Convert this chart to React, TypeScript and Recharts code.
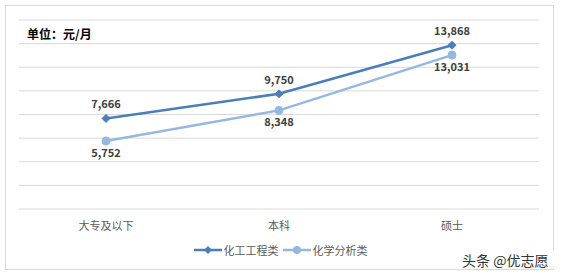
import React from 'react';
import { LineChart, Line, XAxis, YAxis, CartesianGrid, Legend, LabelList } from 'recharts';

const categories = ['大专及以下', '本科', '硕士'];
const chemEngineering = [7666, 9750, 13868];
const chemAnalysis = [5752, 8348, 13031];
const yTicks = [0, 2000, 4000, 6000, 8000, 10000, 12000, 14000, 16000];

const data = categories.map((name, i) => ({
  name,
  a: chemEngineering[i],
  b: chemAnalysis[i],
}));

const FONT = '"Noto Sans CJK SC", "Microsoft YaHei", sans-serif';
const C1 = '#4A7EBB';
const C2 = '#95B8E0';

const Diamond = (props: any) => {
  const { cx, cy } = props;
  if (cx == null || cy == null) return null;
  const r = 4;
  return <path d={`M${cx},${cy - r}L${cx + r},${cy}L${cx},${cy + r}L${cx - r},${cy}Z`} fill={C1} stroke={C1} />;
};

const Dot = (props: any) => {
  const { cx, cy } = props;
  if (cx == null || cy == null) return null;
  return <circle cx={cx} cy={cy} r={4} fill={C2} stroke={C2} />;
};

const EmptyTick = () => <g />;

const fmt = (v: any) => Number(v).toLocaleString('en-US');

const LegendContent = () => (
  <div style={{ display: 'flex', justifyContent: 'center', alignItems: 'center', fontFamily: FONT, fontSize: 11, color: '#595959', height: 14 }}>
    <svg width={28} height={10}>
      <line x1={0} y1={5} x2={28} y2={5} stroke={C1} strokeWidth={2.5} />
      <path d="M14,1L18,5L14,9L10,5Z" fill={C1} />
    </svg>
    <span style={{ marginLeft: 2, marginRight: 4 }}>化工工程类</span>
    <svg width={28} height={10}>
      <line x1={0} y1={5} x2={28} y2={5} stroke={C2} strokeWidth={2.5} />
      <circle cx={14} cy={5} r={4} fill={C2} />
    </svg>
    <span style={{ marginLeft: 2 }}>化学分析类</span>
  </div>
);

export default function App() {
  return (
    <div style={{ position: 'absolute', left: 0, top: 0, width: 561, height: 277, background: '#fff' }}>
      <div style={{ position: 'absolute', left: 5, top: 5, width: 547, height: 263, border: '1px solid #D9D9D9' }} />
      <div style={{ position: 'absolute', left: 27, top: 25, fontFamily: FONT, fontSize: 12, fontWeight: 'bold', color: '#000' }}>单位：元/月</div>
      <LineChart width={561} height={277} data={data} margin={{ top: 20, right: 22, left: 19, bottom: 24 }}>
        <CartesianGrid horizontal vertical={false} stroke="#D9D9D9" />
        <YAxis width={0} domain={[0, 16000]} ticks={yTicks} interval={0} tick={<EmptyTick />} axisLine={false} tickLine={false} />
        <XAxis
          dataKey="name"
          axisLine={false}
          tickLine={false}
          tickSize={11}
          height={30}
          padding={{ left: 87, right: 87 }}
          tick={{ fill: '#595959', fontSize: 11, fontFamily: FONT }}
        />
        <Legend
          content={<LegendContent />}
          wrapperStyle={{ position: 'absolute', top: 243, left: 0, width: 561, height: 14 }}
        />
        <Line dataKey="a" name="化工工程类" stroke={C1} strokeWidth={2.5} dot={<Diamond />} isAnimationActive={false}>
          <LabelList dataKey="a" position="top" offset={10} formatter={fmt} style={{ fill: '#404040', fontSize: 11, fontWeight: 'bold', fontFamily: FONT }} />
        </Line>
        <Line dataKey="b" name="化学分析类" stroke={C2} strokeWidth={2.5} dot={<Dot />} isAnimationActive={false}>
          <LabelList dataKey="b" position="bottom" offset={8} formatter={fmt} style={{ fill: '#404040', fontSize: 11, fontWeight: 'bold', fontFamily: FONT }} />
        </Line>
      </LineChart>
      <div style={{ position: 'absolute', left: 456, top: 250, width: 105, height: 18, background: '#fff' }} />
      <div style={{ position: 'absolute', left: 462, top: 252, fontFamily: FONT, fontSize: 14, lineHeight: '16px', color: '#333', whiteSpace: 'nowrap' }}>头条 @优志愿</div>
    </div>
  );
}
